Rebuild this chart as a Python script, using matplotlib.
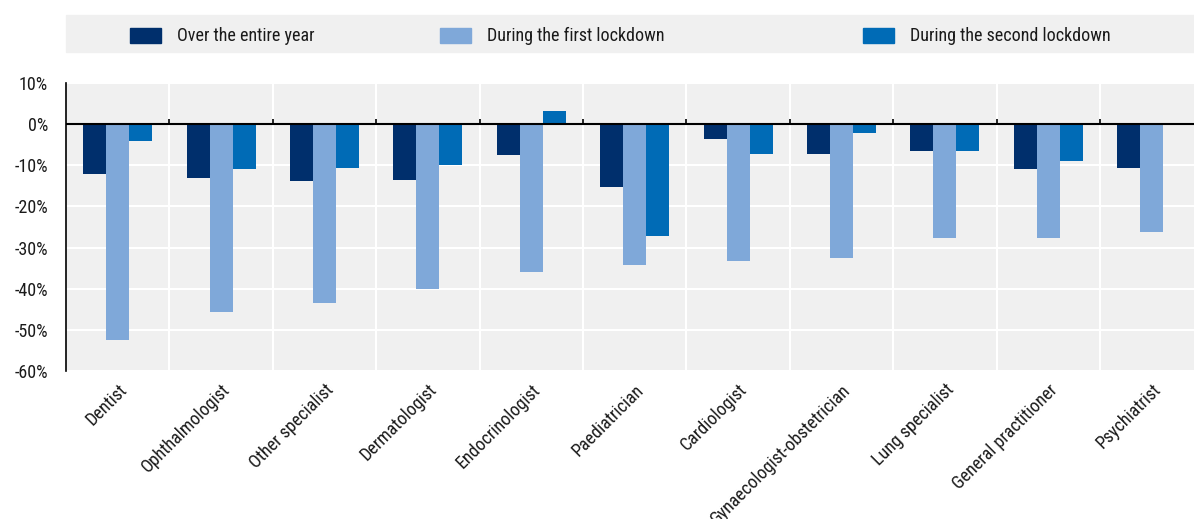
import matplotlib
matplotlib.use("Agg")
import matplotlib.pyplot as plt
from matplotlib import font_manager
from matplotlib.ticker import FixedLocator, FuncFormatter
from matplotlib.patches import Rectangle
import numpy as np

# --- data -------------------------------------------------------------
categories = ["Dentist", "Ophthalmologist", "Other specialist", "Dermatologist",
              "Endocrinologist", "Paediatrician", "Cardiologist",
              "Gynaecologist-obstetrician", "Lung specialist",
              "General practitioner", "Psychiatrist"]
entire_year = [-12.0, -13.0, -13.7, -13.6, -7.5, -15.2, -3.7, -7.2, -6.5, -10.9, -10.7]
first_lockdown = [-52.4, -45.6, -43.4, -40.1, -36.0, -34.3, -33.3, -32.6, -27.6, -27.6, -26.3]
second_lockdown = [-4.1, -10.9, -10.7, -9.9, 3.1, -27.3, -7.3, -2.1, -6.6, -8.9, -0.3]
series_names = ["Over the entire year", "During the first lockdown",
                "During the second lockdown"]
y_ticks = [10, 0, -10, -20, -30, -40, -50, -60]

# --- style ------------------------------------------------------------
available = {f.name for f in font_manager.fontManager.ttflist}
family = "Liberation Sans"
for cand in ["Arial Narrow", "Liberation Sans Narrow", "Roboto Condensed", "Archivo Narrow"]:
    if cand in available:
        family = cand
        break
plt.rcParams["font.family"] = [family, "DejaVu Sans"]

colors = ["#002F6C", "#7FA8D9", "#006BB6"]
panel_bg = "#F0F0F0"
text_color = "#1A1A1A"
fs = 13

W, H = 1194, 519
fig = plt.figure(figsize=(W / 100, H / 100), dpi=100)

ax_left, ax_top, ax_bottom = 66, 83, 371
ax = fig.add_axes([ax_left / W, 1 - ax_bottom / H, 1 - ax_left / W, (ax_bottom - ax_top) / H])
ax.set_facecolor(panel_bg)

x = np.arange(len(categories))
bw = 0.222
for i, (vals, c) in enumerate(zip([entire_year, first_lockdown, second_lockdown], colors)):
    ax.bar(x + (i - 1) * bw, vals, width=bw, color=c, zorder=3, label=series_names[i])

ax.set_ylim(-60, 10)
ax.set_xlim(-0.5, -0.5 + (W - ax_left) / 103.4)

# y axis
ax.set_yticks(y_ticks)
ax.yaxis.set_major_formatter(FuncFormatter(lambda v, p: f"{int(v)}%"))
ax.tick_params(axis="y", length=0, pad=13, labelsize=fs, labelcolor=text_color)
ax.yaxis.set_minor_locator(FixedLocator([-60, 10]))
ax.tick_params(axis="y", which="minor", direction="in", length=5, width=1.2, color="black")
ax.grid(axis="y", color="white", lw=1.5, zorder=1)

# x axis: labels at group centres, white dividers between groups
bounds = np.arange(len(categories) - 1) + 0.5
ax.set_xticks(x)
ax.set_xticklabels(categories, rotation=45, ha="right", rotation_mode="anchor",
                   fontsize=fs, color=text_color)
ax.tick_params(axis="x", length=0, pad=7)
for b in bounds:
    ax.axvline(b, color="white", lw=1.5, zorder=1)
ax.vlines(bounds, 0, 1.3, color="black", lw=1.2, zorder=4)
ax.axhline(0, color="black", lw=1.5, zorder=4)

for s in ["top", "right", "bottom"]:
    ax.spines[s].set_visible(False)
ax.spines["left"].set_color("black")
ax.spines["left"].set_linewidth(1.2)
ax.spines["left"].set_zorder(5)

# legend band across the top
fig.patches.append(Rectangle((ax_left / W, 1 - 52 / H), 1 - ax_left / W, 37 / H,
                             transform=fig.transFigure, color=panel_bg, zorder=0))
leg_x = [130, 440, 863]
for lx, c, name in zip(leg_x, colors, series_names):
    fig.patches.append(Rectangle((lx / W, 1 - 43 / H), 31 / W, 15 / H,
                                 transform=fig.transFigure, color=c, zorder=1))
    fig.text((lx + 47) / W, 1 - 36 / H, name, fontsize=fs, color=text_color,
             va="center", ha="left")

fig.savefig("out.png", dpi=100, facecolor="white")
